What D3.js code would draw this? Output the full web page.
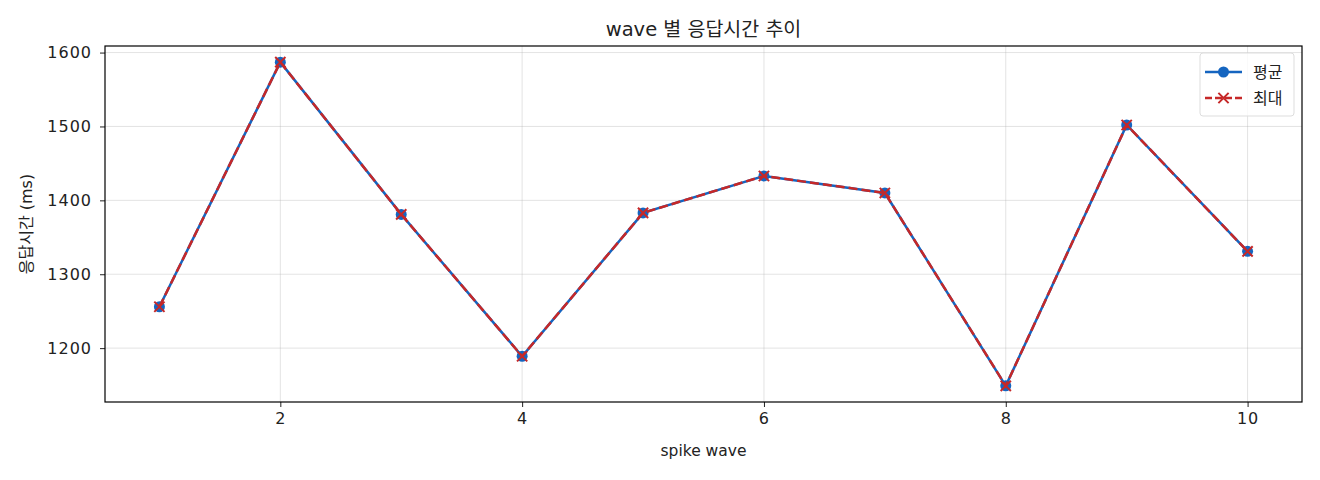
<!DOCTYPE html>
<html>
<head>
<meta charset="utf-8">
<script src="https://cdn.jsdelivr.net/npm/d3@7"></script>
<style>
  body { margin: 0; background: #fff; }
  svg text { font-family: "DejaVu Sans", "Noto Sans CJK KR", sans-serif; fill: #222; }
</style>
</head>
<body>
<svg id="chart" width="1320" height="480"></svg>
<script>
const waves = [1, 2, 3, 4, 5, 6, 7, 8, 9, 10];
const avgMs = [1256, 1587, 1381, 1189, 1383, 1433, 1410, 1149, 1502, 1331];
const maxMs = [1256, 1587, 1381, 1189, 1383, 1433, 1410, 1149, 1502, 1331];
const xTicks = [2, 4, 6, 8, 10];
const yTicks = [1200, 1300, 1400, 1500, 1600];

const blue = '#1565c0';
const red = '#c62828';

const svg = d3.select('#chart');
// plot box (window.top is reserved, so no `top` here)
const pL = 105, pR = 1302, pT = 46, pB = 402;

const lo = d3.min(avgMs.concat(maxMs)), hi = d3.max(avgMs.concat(maxMs));
const pad = (hi - lo) * 0.05;
const x = d3.scaleLinear().domain([0.55, 10.45]).range([pL, pR]);
const y = d3.scaleLinear().domain([lo - pad, hi + pad]).range([pB, pT]);

// grid
const grid = svg.append('g');
grid.selectAll('.gx').data(xTicks).join('line')
  .attr('x1', d => x(d)).attr('x2', d => x(d))
  .attr('y1', pT).attr('y2', pB)
  .attr('stroke', '#b0b0b0').attr('stroke-opacity', 0.35).attr('stroke-width', 1);
grid.selectAll('.gy').data(yTicks).join('line')
  .attr('x1', pL).attr('x2', pR)
  .attr('y1', d => y(d)).attr('y2', d => y(d))
  .attr('stroke', '#b0b0b0').attr('stroke-opacity', 0.35).attr('stroke-width', 1);

// axes
const xAxis = svg.append('g').attr('transform', `translate(0,${pB})`)
  .call(d3.axisBottom(x).tickValues(xTicks).tickFormat(d3.format('d')).tickSize(5).tickPadding(6));
const yAxis = svg.append('g').attr('transform', `translate(${pL},0)`)
  .call(d3.axisLeft(y).tickValues(yTicks).tickFormat(d3.format('d')).tickSize(5).tickPadding(8));
[xAxis, yAxis].forEach(a => {
  a.select('.domain').remove();
  a.selectAll('text').style('font-size', '16px').style('letter-spacing', '1px')
    .style('font-family', 'DejaVu Sans').attr('fill', '#222');
  a.selectAll('line').attr('stroke', '#222');
});

svg.append('rect')
  .attr('x', pL).attr('y', pT)
  .attr('width', pR - pL).attr('height', pB - pT)
  .attr('fill', 'none').attr('stroke', '#000').attr('stroke-width', 1.2);

// lines
const line = d3.line().x((d, i) => x(waves[i])).y(d => y(d));

svg.append('path').datum(avgMs)
  .attr('d', line).attr('fill', 'none')
  .attr('stroke', blue).attr('stroke-width', 2.5);
svg.selectAll('.avgpt').data(avgMs).join('circle')
  .attr('cx', (d, i) => x(waves[i])).attr('cy', d => y(d))
  .attr('r', 5.5).attr('fill', blue);

svg.append('path').datum(maxMs)
  .attr('d', line).attr('fill', 'none')
  .attr('stroke', red).attr('stroke-width', 2.5)
  .attr('stroke-dasharray', '9,4');
const cross = d3.symbol().type(d3.symbolX).size(70);
svg.selectAll('.maxpt').data(maxMs).join('path')
  .attr('transform', (d, i) => `translate(${x(waves[i])},${y(d)})`)
  .attr('d', cross).attr('fill', 'none')
  .attr('stroke', red).attr('stroke-width', 2);

// text
svg.append('text').attr('x', (pL + pR) / 2).attr('y', 36)
  .attr('text-anchor', 'middle').style('font-size', '19.5px')
  .text('wave 별 응답시간 추이');
svg.append('text').attr('x', (pL + pR) / 2).attr('y', 456)
  .attr('text-anchor', 'middle').style('font-size', '15.5px')
  .text('spike wave');
svg.append('text')
  .attr('transform', `translate(32,${(pT + pB) / 2}) rotate(-90)`)
  .attr('text-anchor', 'middle').style('font-size', '16px')
  .text('응답시간 (ms)');

// legend
const lg = svg.append('g').attr('transform', 'translate(1200,53)');
lg.append('rect').attr('width', 94).attr('height', 63).attr('rx', 3)
  .attr('fill', '#fff').attr('fill-opacity', 0.8)
  .attr('stroke', '#ddd');
const items = [
  { label: '평균', color: blue, dash: null, mark: 'circle' },
  { label: '최대', color: red, dash: '7,3', mark: 'x' }
];
items.forEach((it, i) => {
  const g = lg.append('g').attr('transform', `translate(0,${19 + i * 26})`);
  g.append('line').attr('x1', 5).attr('x2', 42).attr('y1', 0).attr('y2', 0)
    .attr('stroke', it.color).attr('stroke-width', 2.5)
    .attr('stroke-dasharray', it.dash);
  if (it.mark === 'circle') {
    g.append('circle').attr('cx', 23.5).attr('cy', 0).attr('r', 5.5).attr('fill', it.color);
  } else {
    g.append('path').attr('transform', 'translate(23.5,0)').attr('d', cross)
      .attr('fill', 'none').attr('stroke', it.color).attr('stroke-width', 2);
  }
  g.append('text').attr('x', 53).attr('y', 6).style('font-size', '16px').text(it.label);
});
</script>
</body>
</html>
